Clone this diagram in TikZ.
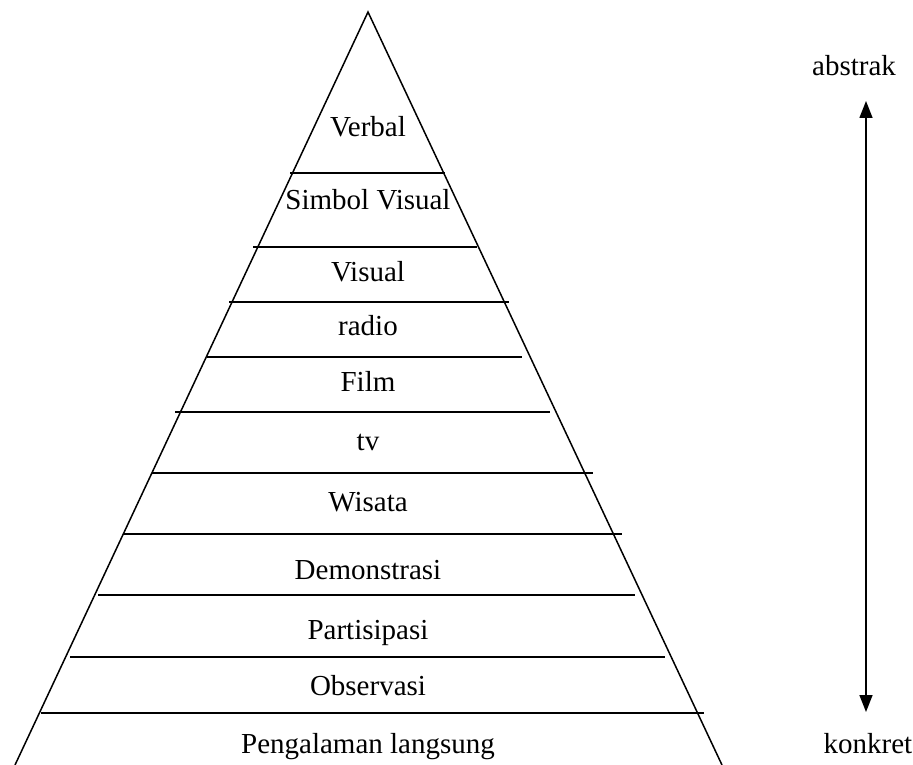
\documentclass[tikz,border=0pt]{standalone}
\usepackage{fontspec}
\setmainfont{Liberation Serif}
\usetikzlibrary{arrows.meta}

\begin{document}
\begin{tikzpicture}[x=1pt,y=-1pt,line width=1.5pt]
      \tikzstyle{every node}=[font=\fontsize{29}{34}\selectfont,inner sep=0pt,anchor=base]
      \tikzstyle{scale arrow}=[{Triangle[width=13pt,length=17pt]}-{Triangle[width=13pt,length=17pt]}]
      \useasboundingbox (0,0) rectangle (913,765);
      % pyramid
      \coordinate (apex)  at (368,12);
      \coordinate (baseL) at (15,765);
      \coordinate (baseR) at (722,765);
      \draw (baseL) -- (apex) -- (baseR);
      % level separators
      \foreach \i/\y/\xl/\xr in {1/173/290/445, 2/247/253/477, 3/302/229/509,
          4/357/207/522, 5/412/175/550, 6/473/152/593, 7/534/123/622,
          8/595/98/635, 9/657/70/665, 10/713/41/704} {
        \coordinate (sepL\i) at (\xl,\y);
        \coordinate (sepR\i) at (\xr,\y);
        \draw (sepL\i) -- (sepR\i);
      }
      % level labels
      \node (verbal)  at (368,137) {Verbal};
      \node (simbol)  at (368,209) {Simbol Visual};
      \node (visual)  at (368,281) {Visual};
      \node (radio)   at (368,335) {radio};
      \node (film)    at (368,391) {Film};
      \node (tv)      at (368,450) {tv};
      \node (wisata)  at (368,511) {Wisata};
      \node (demo)    at (368,579) {Demonstrasi};
      \node (partis)  at (368,639) {Partisipasi};
      \node (observ)  at (368,695) {Observasi};
      \node (langsung) at (368,753) {Pengalaman langsung};
      % abstract - concrete scale
      \node (abstrak) at (854,76)  {abstrak};
      \node (konkret) at (868,753) {konkret};
      \coordinate (scaleTop) at (866,101);
      \coordinate (scaleBot) at (866,712);
      \draw [scale arrow] (scaleTop) -- (scaleBot);
\end{tikzpicture}
\end{document}
